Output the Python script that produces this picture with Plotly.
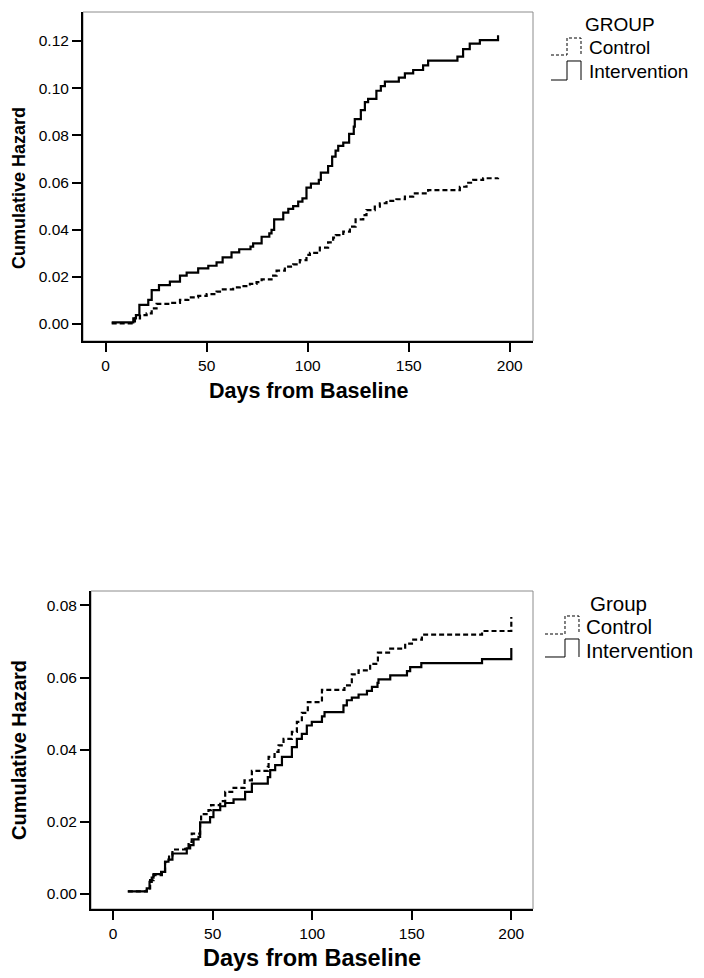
import plotly.graph_objects as go

# page body has an 8px default margin, so the figure is drawn offset by 8px
OFF = 8
W, H = 704 - OFF, 978 - OFF

# ---------------- data: top chart ----------------
top_int_days = [3, 13.7, 15.0, 16.7, 21.1, 22.8, 26.4, 31.8, 36.8, 40.1, 45.8, 50.8, 54.9, 57.9,
                62.3, 66.1, 71.7, 73.0, 77.2, 81.0, 82.1, 83.4, 87.9, 90.4, 92.8, 95.3, 97.4, 99.4,
                101.6, 105.5, 106.5, 110.1, 112.1, 113.8, 115.1, 117.6, 120.5, 122.8, 123.3, 126.3,
                128.3, 129.9, 134.0, 136.2, 138.2, 145.1, 148.1, 152.2, 157.1, 159.6, 174.1, 176.9,
                180.2, 185.2, 194.2]
top_int_haz = [0.0007, 0.0024, 0.0038, 0.0081, 0.0102, 0.0144, 0.0165, 0.0180, 0.0205, 0.0218,
               0.0236, 0.0247, 0.0261, 0.0283, 0.0304, 0.0317, 0.0328, 0.0342, 0.0370, 0.0384,
               0.0399, 0.0444, 0.0472, 0.0488, 0.0500, 0.0519, 0.0533, 0.0578, 0.0595, 0.0611,
               0.0642, 0.0670, 0.0710, 0.0735, 0.0755, 0.0769, 0.0806, 0.0837, 0.0869, 0.0907,
               0.0941, 0.0955, 0.0989, 0.1009, 0.1028, 0.1045, 0.1063, 0.1077, 0.1097, 0.1117,
               0.1134, 0.1166, 0.1189, 0.1204, 0.1224]

top_ctl_days = [3.0, 14.5, 17.0, 20.3, 22.8, 25.2, 31.8, 36.8, 40.9, 45.8, 50.0, 54.9, 57.4, 63.1,
                66.4, 71.4, 74.7, 77.2, 82.1, 84.6, 88.7, 92.8, 96.1, 99.4, 101.1, 106.0, 110.1,
                112.6, 113.9, 117.6, 120.9, 123.7, 127.5, 129.1, 133.2, 135.7, 139.0, 143.9, 148.1,
                152.2, 159.6, 175.3, 178.6, 181.9, 186.8, 194.2]
top_ctl_haz = [0.0003, 0.0024, 0.0038, 0.0045, 0.0066, 0.0085, 0.0090, 0.0102, 0.0113, 0.0119,
               0.0127, 0.0137, 0.0147, 0.0155, 0.0161, 0.0170, 0.0178, 0.0189, 0.0205, 0.0226,
               0.0243, 0.0253, 0.0271, 0.0293, 0.0302, 0.0324, 0.0346, 0.0366, 0.0377, 0.0392,
               0.0413, 0.0444, 0.0462, 0.0483, 0.0498, 0.0512, 0.0522, 0.0529, 0.0540, 0.0554,
               0.0568, 0.0582, 0.0599, 0.0611, 0.0618, 0.0620]

# ---------------- data: bottom chart ----------------
bot_int_days = [7.4, 16.9, 18.3, 19.4, 20.3, 24.1, 26.1, 27.8, 29.8, 37.0, 38.7, 40.4, 42.9, 43.7,
                48.7, 50.4, 53.8, 56.3, 60.5, 66.3, 69.7, 77.7, 78.9, 81.4, 84.8, 89.8, 92.3, 94.8,
                97.3, 99.8, 104.9, 106.2, 115.7, 117.4, 119.9, 123.3, 127.5, 130.0, 132.8, 133.3,
                139.2, 147.6, 149.2, 154.8, 185.3, 200.0]
bot_int_haz = [0.0007, 0.0015, 0.0033, 0.0045, 0.0055, 0.0061, 0.0089, 0.0095, 0.0112, 0.0126,
               0.0135, 0.0151, 0.0158, 0.0198, 0.0213, 0.0232, 0.0243, 0.0252, 0.0262, 0.0283,
               0.0306, 0.0324, 0.0343, 0.0357, 0.0380, 0.0407, 0.0430, 0.0444, 0.0467, 0.0477,
               0.0492, 0.0504, 0.0523, 0.0537, 0.0544, 0.0553, 0.0563, 0.0574, 0.0585, 0.0595,
               0.0606, 0.0618, 0.0629, 0.0640, 0.0651, 0.0682]

bot_ctl_days = [7.4, 16.9, 18.6, 20.3, 24.5, 26.1, 28.1, 29.8, 36.2, 37.9, 39.5, 43.7, 44.2, 47.9,
                49.2, 53.8, 56.3, 60.5, 66.0, 69.7, 77.7, 78.1, 81.1, 83.1, 85.6, 89.8, 92.3, 94.8,
                97.8, 104.9, 116.2, 119.9, 123.3, 129.1, 133.0, 139.2, 146.7, 150.1, 155.1, 185.3,
                200.0]
bot_ctl_haz = [0.0007, 0.0015, 0.0038, 0.0052, 0.0061, 0.0089, 0.0107, 0.0123, 0.0130, 0.0144,
               0.0167, 0.0195, 0.0221, 0.0232, 0.0246, 0.0257, 0.0283, 0.0294, 0.0315, 0.0341,
               0.0352, 0.0380, 0.0394, 0.0412, 0.0430, 0.0449, 0.0477, 0.0502, 0.0532, 0.0566,
               0.0578, 0.0609, 0.0620, 0.0638, 0.0669, 0.0680, 0.0694, 0.0705, 0.0719, 0.0729,
               0.0768]

x_ticks = [0, 50, 100, 150, 200]
top_y_ticks = [0.00, 0.02, 0.04, 0.06, 0.08, 0.10, 0.12]
bot_y_ticks = [0.00, 0.02, 0.04, 0.06, 0.08]
group_labels = ["Control", "Intervention"]
top_legend_title = "GROUP"
bot_legend_title = "Group"
x_title = "Days from Baseline"
y_title = "Cumulative Hazard"

FONT = "Arial, 'Liberation Sans', sans-serif"


def px(x):
    return (x - OFF) / W


def py(y):
    return 1 - (y - OFF) / H


fig = go.Figure()

solid = dict(color="black", width=2.2, shape="hv")
dashed = dict(color="black", width=2.2, shape="hv", dash="5px,3px")

fig.add_trace(go.Scatter(x=top_ctl_days, y=top_ctl_haz, mode="lines", line=dashed,
                         name=group_labels[0], showlegend=False, xaxis="x", yaxis="y"))
fig.add_trace(go.Scatter(x=top_int_days, y=top_int_haz, mode="lines", line=solid,
                         name=group_labels[1], showlegend=False, xaxis="x", yaxis="y"))
fig.add_trace(go.Scatter(x=bot_ctl_days, y=bot_ctl_haz, mode="lines", line=dashed,
                         name=group_labels[0], showlegend=False, xaxis="x2", yaxis="y2"))
fig.add_trace(go.Scatter(x=bot_int_days, y=bot_int_haz, mode="lines", line=solid,
                         name=group_labels[1], showlegend=False, xaxis="x2", yaxis="y2"))

axis_common = dict(showgrid=False, zeroline=False, showline=True, linecolor="black",
                   linewidth=2, ticks="outside", ticklen=9, tickwidth=2, tickcolor="black",
                   tickfont=dict(family=FONT, size=15.5, color="black"))

fig.update_layout(
    width=W, height=H,
    margin=dict(l=0, r=0, t=0, b=0),
    paper_bgcolor="white", plot_bgcolor="white",
    font=dict(family=FONT, color="black"),
    xaxis=dict(domain=[px(83), px(533)], range=[-11.2, 211.5], tickvals=x_ticks,
               anchor="y", **axis_common),
    yaxis=dict(domain=[py(341), py(12)], range=[-0.0072, 0.1323], tickvals=top_y_ticks,
               tickformat=".2f", anchor="x", **axis_common),
    xaxis2=dict(domain=[px(91), px(533)], range=[-11.1, 210.9], tickvals=x_ticks,
                anchor="y2", **axis_common),
    yaxis2=dict(domain=[py(909), py(591)], range=[-0.0042, 0.084], tickvals=bot_y_ticks,
                tickformat=".2f", anchor="x2", **axis_common),
)

shapes = []
# light frame around the plot areas
for xr, yr in (("x domain", "y domain"), ("x2 domain", "y2 domain")):
    shapes.append(dict(type="rect", xref=xr, yref=yr, x0=0, x1=1, y0=0, y1=1,
                       line=dict(color="#8c8c8c", width=1), layer="below"))

annotations = []
# axis titles
annotations.append(dict(text="<b>%s</b>" % x_title, x=px(309), y=py(391), xref="paper", yref="paper",
                        showarrow=False, xanchor="center", yanchor="middle",
                        font=dict(family=FONT, size=21.5, color="black")))
annotations.append(dict(text="<b>%s</b>" % y_title, x=px(19), y=py(188), xref="paper", yref="paper",
                        showarrow=False, xanchor="center", yanchor="middle", textangle=-90,
                        font=dict(family=FONT, size=18, color="black")))
annotations.append(dict(text="<b>%s</b>" % x_title, x=px(312), y=py(958), xref="paper", yref="paper",
                        showarrow=False, xanchor="center", yanchor="middle",
                        font=dict(family=FONT, size=23.5, color="black")))
annotations.append(dict(text="<b>%s</b>" % y_title, x=px(19), y=py(750), xref="paper", yref="paper",
                        showarrow=False, xanchor="center", yanchor="middle", textangle=-90,
                        font=dict(family=FONT, size=20, color="black")))


def step_icon(x0, xm, x1, ylo, yhi, dash):
    ln = dict(color="black", width=1, dash=dash)
    path = "M %f %f L %f %f L %f %f L %f %f L %f %f" % (
        px(x0), py(ylo), px(xm), py(ylo), px(xm), py(yhi), px(x1), py(yhi), px(x1), py(ylo))
    return dict(type="path", xref="paper", yref="paper", path=path, line=ln)


def legend(title, title_x, title_y, text_x, rows, icon_x, size):
    annotations.append(dict(text=title, x=px(title_x), y=py(title_y), xref="paper", yref="paper",
                            showarrow=False, xanchor="left", yanchor="middle",
                            font=dict(family=FONT, size=size, color="black")))
    for label, (ty, ylo, yhi, dash) in zip(group_labels, rows):
        annotations.append(dict(text=label, x=px(text_x), y=py(ty), xref="paper", yref="paper",
                                showarrow=False, xanchor="left", yanchor="middle",
                                font=dict(family=FONT, size=size, color="black")))
        shapes.append(step_icon(icon_x[0], icon_x[1], icon_x[2], ylo, yhi, dash))


legend(top_legend_title, 583, 24, 587,
       [(48, 55, 38, "3px,2px"), (72, 80, 61, "solid")],
       (551, 567, 581), 19)
legend(bot_legend_title, 588, 603, 584,
       [(626, 634, 616, "3px,2px"), (650, 657, 639, "solid")],
       (545, 565, 579), 20.5)

fig.update_layout(shapes=shapes, annotations=annotations)

fig.write_html("out.html")
